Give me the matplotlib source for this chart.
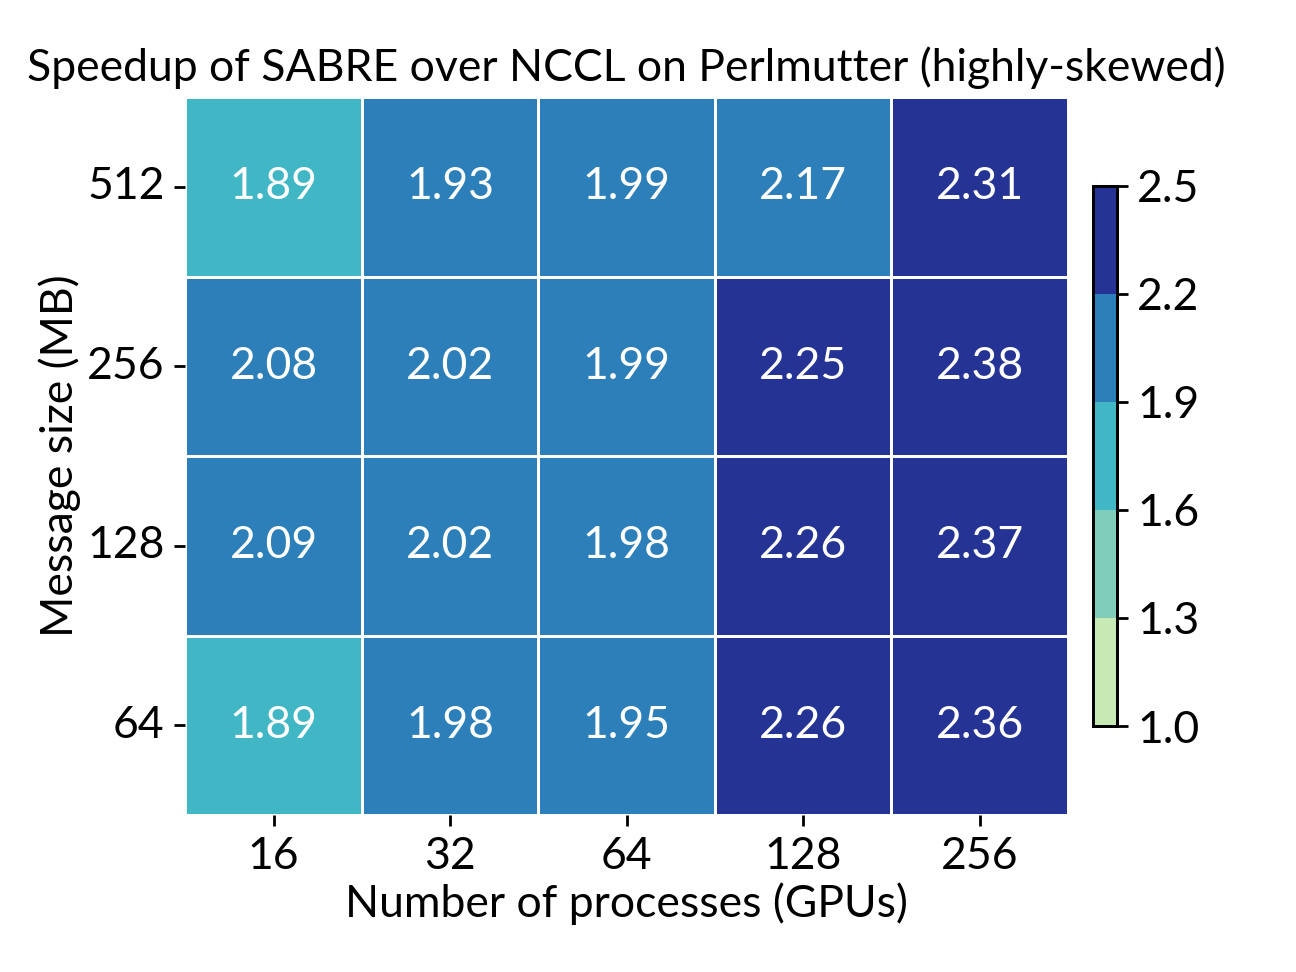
import matplotlib as mpl
mpl.use('Agg')
import matplotlib.pyplot as plt
from matplotlib.colors import ListedColormap, BoundaryNorm
import numpy as np
import seaborn as sns

# data
gpus = ['16', '32', '64', '128', '256']
msg_sizes = ['512', '256', '128', '64']
speedup = np.array([
    [1.89, 1.93, 1.99, 2.17, 2.31],
    [2.08, 2.02, 1.99, 2.25, 2.38],
    [2.09, 2.02, 1.98, 2.26, 2.37],
    [1.89, 1.98, 1.95, 2.26, 2.36],
])
bounds = [1.0, 1.3, 1.6, 1.9, 2.2, 2.5]
colors = ['#c7e9b4', '#7fcdbb', '#41b6c4', '#2c7fb8', '#253494']

plt.rcParams['font.family'] = ['Lato', 'DejaVu Sans']
plt.rcParams['font.size'] = 16

cmap = ListedColormap(colors)
norm = BoundaryNorm(bounds, cmap.N)

fig = plt.figure(figsize=(6.48, 4.86), dpi=200)
ax = fig.add_axes([0.143, 0.1615, 0.681, 0.7385])
cax = fig.add_axes([0.843, 0.253, 0.0185, 0.556])

sns.heatmap(speedup, ax=ax, cbar_ax=cax, cmap=cmap, norm=norm,
            annot=True, fmt='.2f', annot_kws={'size': 16, 'color': 'white'},
            linewidths=1, linecolor='white',
            xticklabels=gpus, yticklabels=msg_sizes,
            cbar_kws={'ticks': bounds})

ax.set_yticklabels(msg_sizes, rotation=0)
ax.set_xticklabels(gpus, rotation=0)
ax.tick_params(axis='both', length=4, width=1, labelsize=16)
ax.set_xlabel('Number of processes (GPUs)', fontsize=16, labelpad=2)
ax.set_ylabel('Message size (MB)', fontsize=16, labelpad=2)
ax.set_title('Speedup of SABRE over NCCL on Perlmutter (highly-skewed)', fontsize=16, pad=6)

cax.set_yticklabels(['1.0', '1.3', '1.6', '1.9', '2.2', '2.5'])
cax.tick_params(labelsize=16, length=4, width=1)
for s in cax.spines.values():
    s.set_visible(True)
    s.set_color('black')
    s.set_linewidth(1)

fig.savefig('out.png', dpi=200)
